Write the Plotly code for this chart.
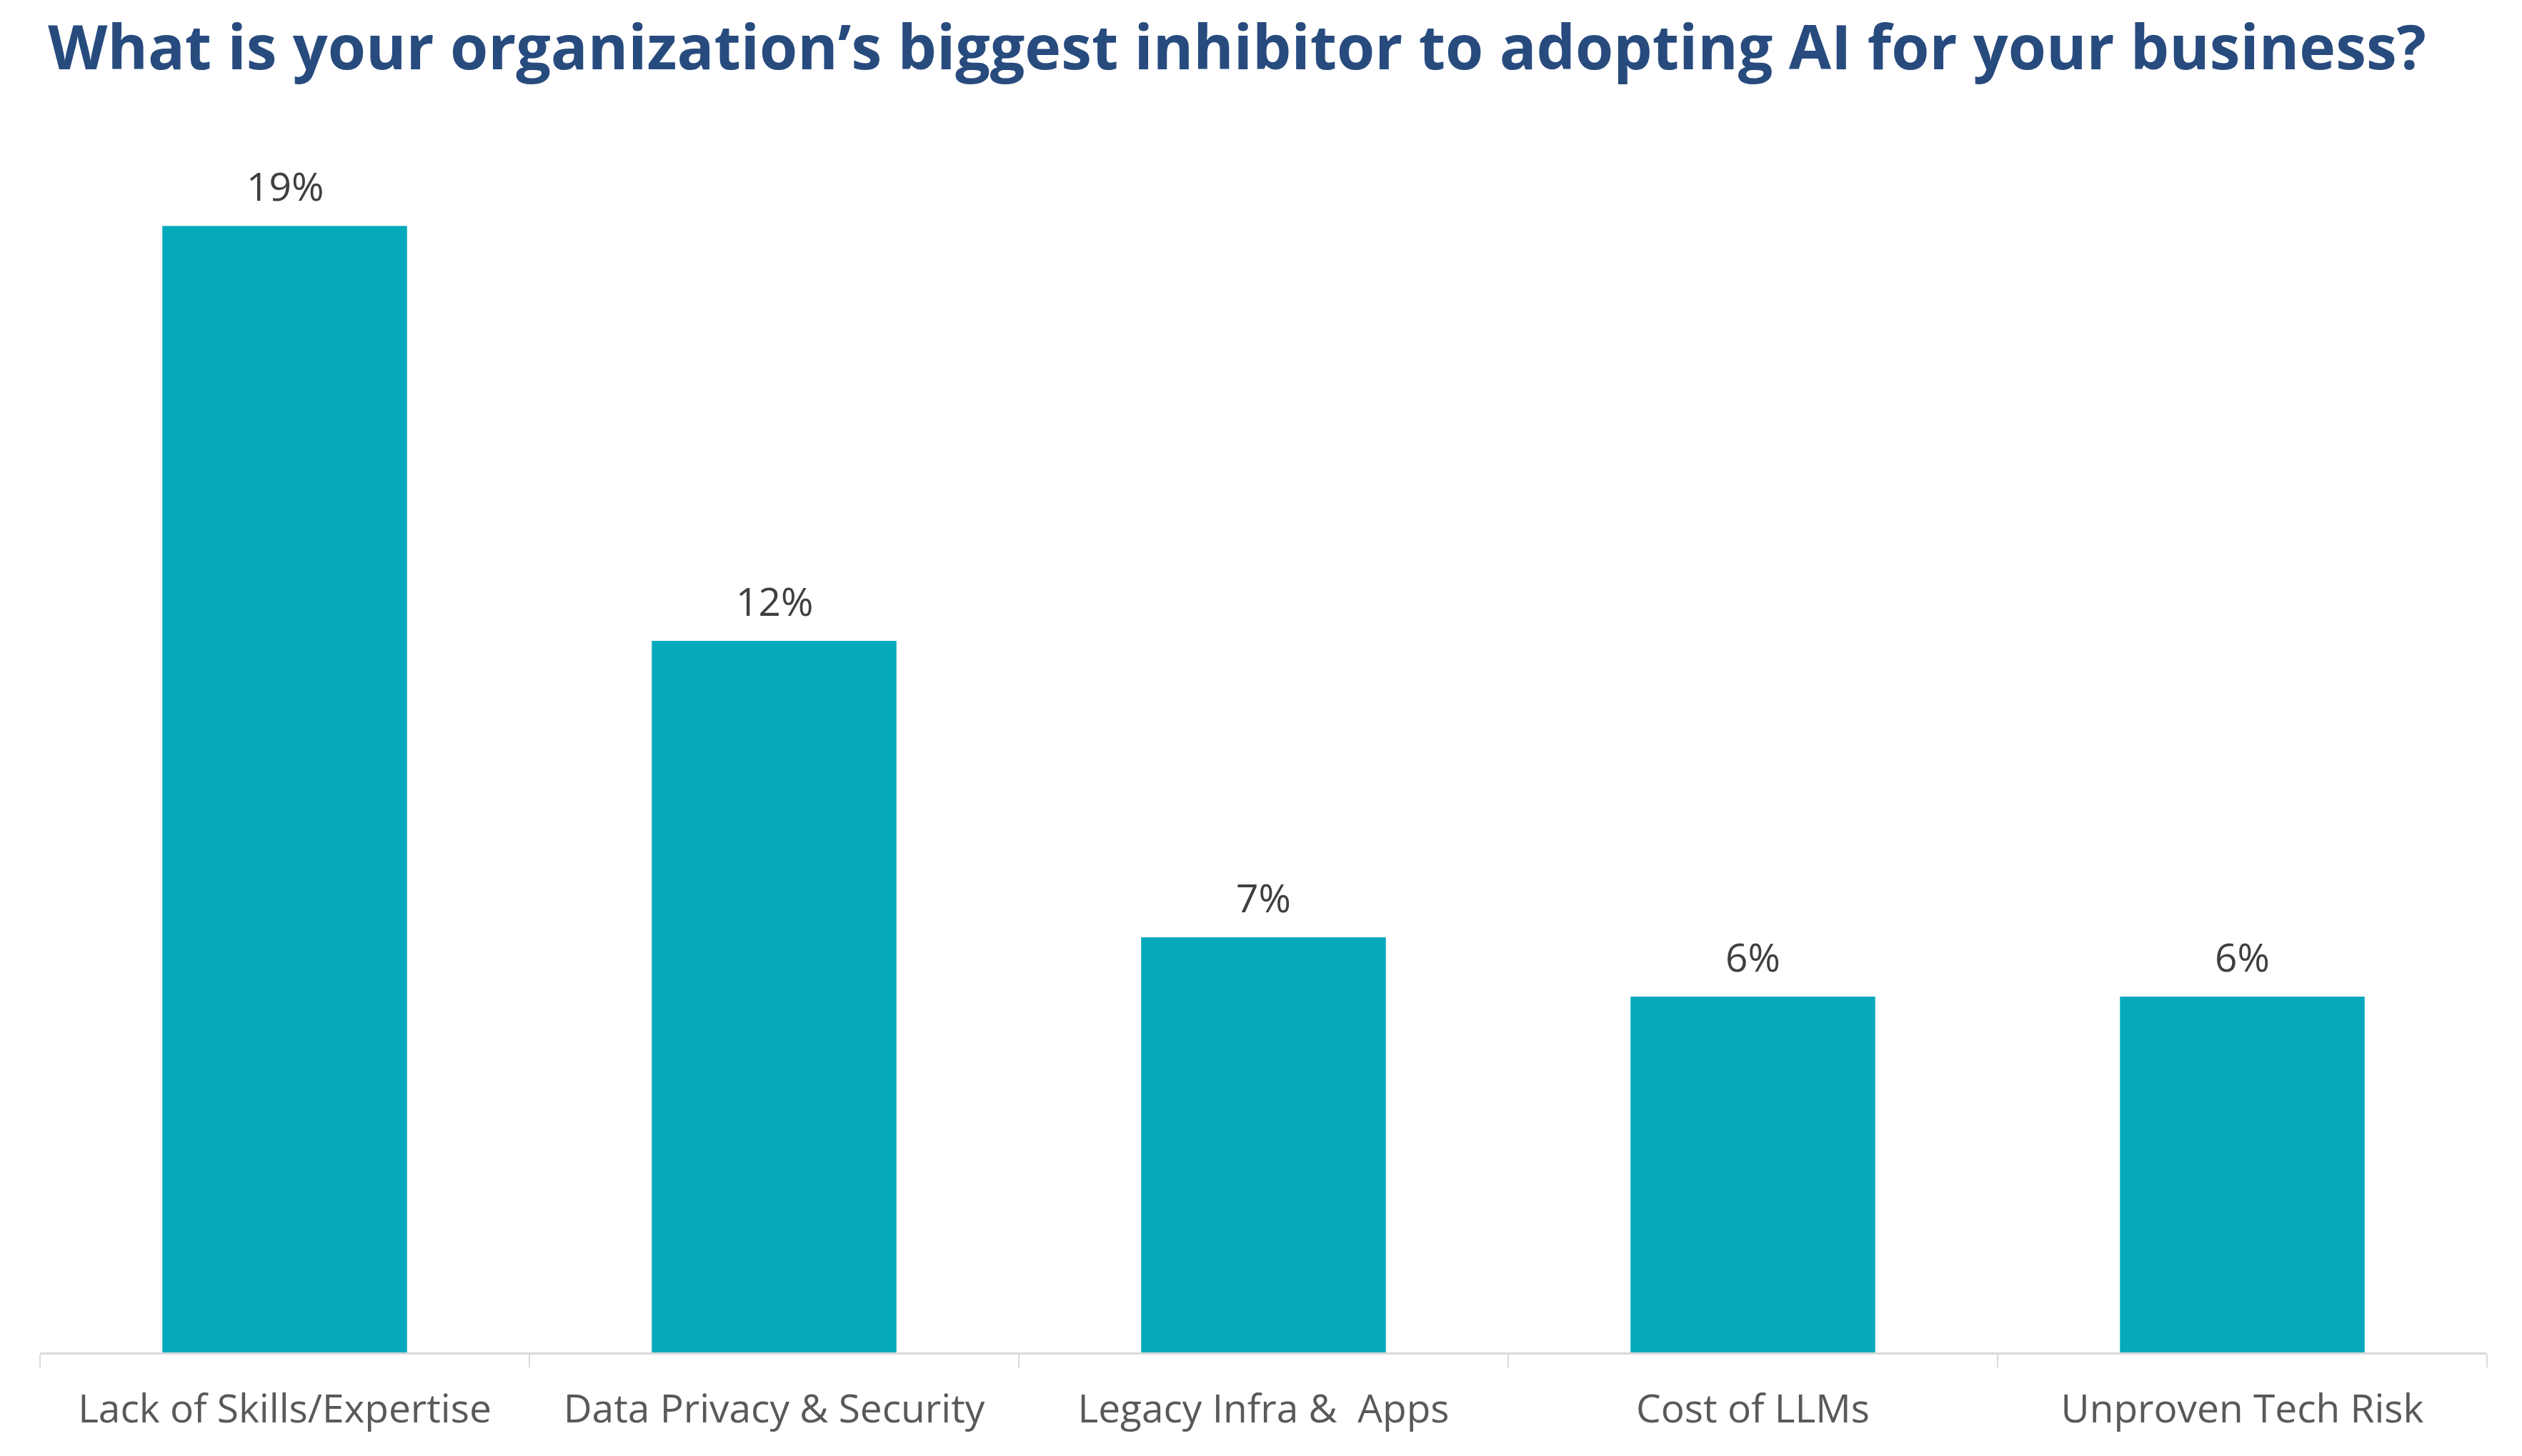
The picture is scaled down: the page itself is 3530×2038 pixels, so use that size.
import plotly.graph_objects as go

categories = ["Lack of Skills/Expertise", "Data Privacy & Security", "Legacy Infra &\u00a0 Apps", "Cost of LLMs", "Unproven Tech Risk"]
values = [19, 12, 7, 6, 6]
labels = ["19%", "12%", "7%", "6%", "6%"]

BAR = "#04AABB"
FONT = "Open Sans"

fig = go.Figure()
fig.add_trace(go.Bar(x=categories, y=values, marker=dict(color=BAR, line=dict(width=0)),
                     hoverinfo="skip"))

for c, v, t in zip(categories, values, labels):
    fig.add_annotation(x=c, y=v, text=t, showarrow=False, yanchor="bottom", yshift=17,
                       font=dict(family=FONT, size=55, color="#404040"))

fig.update_layout(
    width=3530, height=2038,
    margin=dict(l=56, r=49, t=200, b=145),
    paper_bgcolor="white", plot_bgcolor="white",
    bargap=0.5,
    showlegend=False,
    title=dict(text="<b>What is your organization\u2019s biggest inhibitor to adopting AI for your business?</b>",
               x=0.4905, xanchor="center", y=1 - 67 / 2038, yanchor="middle",
               font=dict(family=FONT, size=86, color="#284B7E")),
)
fig.update_xaxes(
    type="category", range=[-0.5, 4.5],
    showline=True, linecolor="#D9D9D9", linewidth=3,
    ticks="outside", tickson="boundaries", ticklen=18, tickcolor="#D9D9D9", tickwidth=2,
    ticklabelstandoff=29,
    tickfont=dict(family=FONT, size=55, color="#595959"),
    showgrid=False, zeroline=False,
)
fig.update_yaxes(range=[0, 20.4], visible=False, showgrid=False, zeroline=False)

fig.write_html("out.html", config={"displayModeBar": False},
               post_script="document.body.style.margin='0';")
